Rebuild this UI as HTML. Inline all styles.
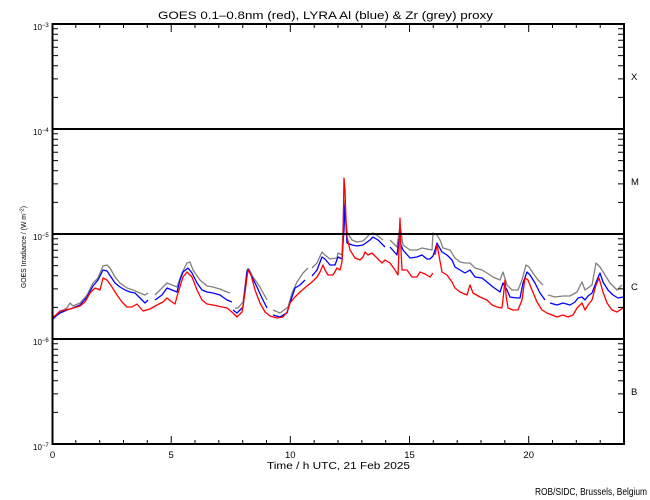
<!DOCTYPE html>
<html><head><meta charset="utf-8"><style>
html,body{margin:0;padding:0;background:#fff;}
svg{display:block;}
text{font-family:"Liberation Sans",sans-serif;fill:#000;}
</style></head><body>
<svg width="650" height="500" viewBox="0 0 650 500" xmlns="http://www.w3.org/2000/svg">
<rect width="650" height="500" fill="#fff"/>
<!-- title -->
<text x="158" y="19" font-size="11" textLength="335" lengthAdjust="spacingAndGlyphs">GOES 0.1–0.8nm (red), LYRA Al (blue) &amp; Zr (grey) proxy</text>

<!-- data -->
<g fill="none" stroke-width="1.3" stroke-linejoin="round">
<polyline stroke="#808080" points="52,319 56,315 60,312 67,308 70,303 73,306 80,303 87,295 93,283 98,278 103,266 107,265 110,268 115,277 120,283 127,288 133,290 140,293 145,295 148,293"/>
<polyline stroke="#808080" points="155,295 162,288 167,283 172,285 177,287 182,273 187,263 190,262 193,270 200,280 207,286 213,287 220,289 227,292 230,293"/>
<polyline stroke="#808080" points="235,308 238,308 243,302 247,270 249,269 253,277 260,287 267,300"/>
<polyline stroke="#808080" points="273,310 280,313 288,307 292,293 297,282 303,273 308,268"/>
<polyline stroke="#808080" points="312,268 317,263 322,252 325,255 330,259 337,258 338,253 342,255 344,200 347,232 352,240 357,242 363,241 370,234 373,233 378,236 383,240"/>
<polyline stroke="#808080" points="390,240 397,247 400,225 403,245 410,250 417,250 422,248 427,249 432,250 433,233 437,235 440,240 443,248 450,250 455,258 460,262 465,263 470,263 475,268 482,270 487,273 493,277 500,280 503,272 507,285 512,290 518,290 522,280 526,265 529,267 533,273 538,280 543,285"/>
<polyline stroke="#808080" points="548,295 555,297 563,296 570,296 577,292 582,282 585,290 588,288 592,285 596,263 600,267 605,275 610,283 617,290 622,285"/>

<polyline stroke="#0000ff" points="52,320 56,316 60,313 67,310 73,308 80,305 87,297 93,286 98,280 103,270 107,271 111,277 115,283 120,287 125,290 130,292 135,293 140,298 145,303 148,300"/>
<polyline stroke="#0000ff" points="155,300 162,295 167,288 172,290 177,292 180,280 183,272 188,268 192,273 197,283 202,290 207,292 213,293 220,295 227,300 232,302"/>
<polyline stroke="#0000ff" points="233,310 237,313 243,307 245,290 247,272 248,269 252,277 257,287 262,298 267,308"/>
<polyline stroke="#0000ff" points="273,315 280,317 287,313 290,303 295,288 300,285 305,280"/>
<polyline stroke="#0000ff" points="312,276 317,270 322,257 325,259 330,265 335,265 338,257 342,259 344,230 345,205 346,225 347,243 352,245 357,246 363,245 370,240 373,237 378,240 383,245 385,247"/>
<polyline stroke="#0000ff" points="390,247 397,255 399,240 400,237 401,245 403,250 410,258 417,257 422,255 427,259 430,259 433,256 435,250 437,243 438,245 442,252 447,255 452,260 455,267 460,270 465,273 470,270 475,277 482,278 487,282 493,287 500,292 503,283 507,290 510,297 517,298 520,298 523,283 527,272 530,275 535,283 540,293 545,300"/>
<polyline stroke="#0000ff" points="550,303 557,305 563,303 570,305 575,302 578,298 582,297 585,300 588,296 592,293 597,280 600,273 603,282 608,290 613,295 618,298 623,297"/>

<polyline stroke="#ff0000" points="52,318 56,315 60,311 70,309 80,306 85,302 90,293 95,288 100,290 103,278 107,280 112,287 117,295 122,302 127,307 132,307 137,304 143,311 150,309 157,305 163,302 167,298 172,302 175,304 178,293 183,277 187,272 192,277 197,290 202,300 207,304 213,305 222,307 227,308 233,313 237,317 242,312 245,293 247,277 248,270 251,275 255,290 260,303 265,312 270,316 277,318 283,317 287,312 290,303 295,297 300,292 307,286 312,282 317,277 320,272 323,265 325,270 328,275 333,275 337,268 340,270 342,262 343,240 344,178 345,190 346,220 347,237 350,250 355,258 360,260 363,257 365,252 368,255 372,253 377,258 382,263 385,260 390,263 395,270 398,275 399,250 400,218 401,250 402,270 407,270 412,277 417,277 420,272 425,274 430,277 433,273"/>
<polyline stroke="#ff0000" points="435,255 437,245 438,250 442,272 447,275 452,282 455,288 460,292 467,295 470,285 473,293 480,297 487,300 492,305 497,307 502,308 504,290 505,280 506,295 508,308 513,310 518,310 522,300 525,278 528,280 532,290 537,302 542,310 547,313 552,315 557,317 563,315 568,317 573,315 577,308 582,303 585,310 588,305 592,300 596,285 599,278 603,292 607,303 612,310 617,312 623,308"/>
</g>

<!-- grid decade lines -->
<g stroke="#000" stroke-width="2">
<line x1="52" y1="129" x2="624" y2="129"/>
<line x1="52" y1="234" x2="624" y2="234"/>
<line x1="52" y1="339" x2="624" y2="339"/>
</g>
<!-- axes box -->
<rect x="52.5" y="24" width="571.5" height="420" fill="none" stroke="#000" stroke-width="2"/>

<!-- y minor ticks left and right -->
<g stroke="#000" stroke-width="1">
<path d="M52,97.4h6M52,78.9h6M52,65.8h6M52,55.6h6M52,47.3h6M52,40.3h6M52,34.2h6M52,28.8h6
M52,202.4h6M52,183.9h6M52,170.8h6M52,160.6h6M52,152.3h6M52,145.3h6M52,139.2h6M52,133.8h6
M52,307.4h6M52,288.9h6M52,275.8h6M52,265.6h6M52,257.3h6M52,250.3h6M52,244.2h6M52,238.8h6
M52,412.4h6M52,393.9h6M52,380.8h6M52,370.6h6M52,362.3h6M52,355.3h6M52,349.2h6M52,343.8h6"/>
<path d="M624,97.4h-6M624,78.9h-6M624,65.8h-6M624,55.6h-6M624,47.3h-6M624,40.3h-6M624,34.2h-6M624,28.8h-6
M624,202.4h-6M624,183.9h-6M624,170.8h-6M624,160.6h-6M624,152.3h-6M624,145.3h-6M624,139.2h-6M624,133.8h-6
M624,307.4h-6M624,288.9h-6M624,275.8h-6M624,265.6h-6M624,257.3h-6M624,250.3h-6M624,244.2h-6M624,238.8h-6
M624,412.4h-6M624,393.9h-6M624,380.8h-6M624,370.6h-6M624,362.3h-6M624,355.3h-6M624,349.2h-6M624,343.8h-6"/>
<!-- x ticks top (down) -->
<path d="M75.8,24v4M99.7,24v4M123.5,24v4M147.3,24v4M171.2,24v8M195,24v4M218.8,24v4M242.7,24v4M266.5,24v4M290.3,24v8M314.2,24v4M338,24v4M361.8,24v4M385.7,24v4M409.5,24v8M433.3,24v4M457.2,24v4M481,24v4M504.8,24v4M528.7,24v8M552.5,24v4M576.3,24v4M600.2,24v4"/>
<!-- x ticks bottom (up) -->
<path d="M75.8,444v-4M99.7,444v-4M123.5,444v-4M147.3,444v-4M171.2,444v-8M195,444v-4M218.8,444v-4M242.7,444v-4M266.5,444v-4M290.3,444v-8M314.2,444v-4M338,444v-4M361.8,444v-4M385.7,444v-4M409.5,444v-8M433.3,444v-4M457.2,444v-4M481,444v-4M504.8,444v-4M528.7,444v-8M552.5,444v-4M576.3,444v-4M600.2,444v-4"/>
</g>

<!-- y tick labels -->
<g font-size="8">
<text x="33" y="30">10<tspan font-size="6" dy="-3">−3</tspan></text>
<text x="33" y="135">10<tspan font-size="6" dy="-3">−4</tspan></text>
<text x="33" y="240">10<tspan font-size="6" dy="-3">−5</tspan></text>
<text x="33" y="345">10<tspan font-size="6" dy="-3">−6</tspan></text>
<text x="33" y="450">10<tspan font-size="6" dy="-3">−7</tspan></text>
</g>
<!-- y axis title -->
<text transform="translate(26,288) rotate(-90)" font-size="7.5" textLength="82" lengthAdjust="spacingAndGlyphs">GOES Irradiance / (W m<tspan font-size="5.5" dy="-2.5">−2</tspan><tspan dy="2.5">)</tspan></text>

<!-- x tick labels -->
<g font-size="9.5" text-anchor="middle">
<text x="52.5" y="458">0</text>
<text x="171.2" y="458">5</text>
<text x="290.3" y="458">10</text>
<text x="409.5" y="458">15</text>
<text x="528.7" y="458">20</text>
</g>
<!-- x axis title -->
<text x="267" y="469" font-size="10" textLength="143" lengthAdjust="spacingAndGlyphs">Time / h UTC, 21 Feb 2025</text>

<!-- class labels -->
<g font-size="9.5">
<text x="631" y="80">X</text>
<text x="631" y="185">M</text>
<text x="631" y="290">C</text>
<text x="631" y="395">B</text>
</g>

<text x="535" y="495" font-size="10" textLength="112" lengthAdjust="spacingAndGlyphs">ROB/SIDC, Brussels, Belgium</text>
</svg>
</body></html>
